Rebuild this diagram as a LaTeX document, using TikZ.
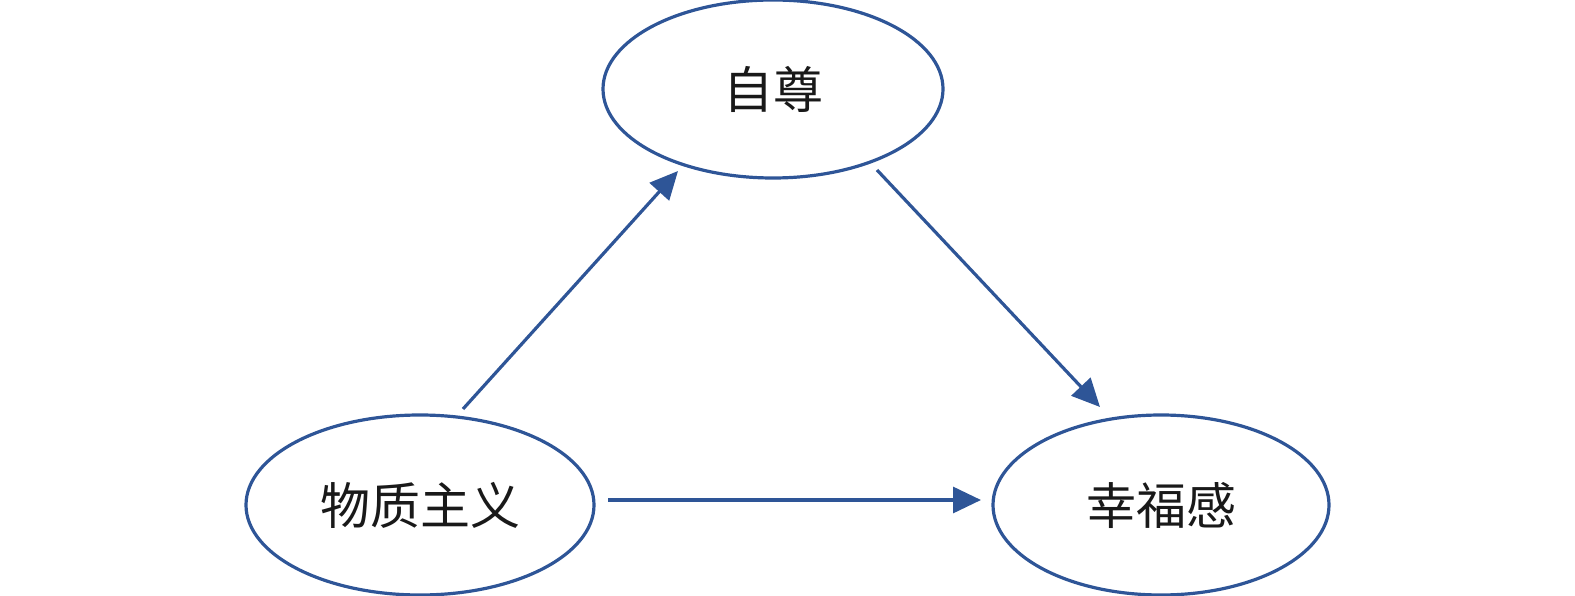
\documentclass[tikz,border=0pt]{standalone}
\usepackage{fontspec}
\newfontfamily\cjk{Noto Sans CJK SC}
\usetikzlibrary{shapes.geometric,arrows.meta}
\definecolor{lineblue}{HTML}{2E5597}
\tikzset{
  oval/.style={ellipse, draw=lineblue, line width=3.2pt, inner sep=0pt, font=\cjk\fontsize{50}{56}\selectfont, text=black!90},
  conn/.style={draw=lineblue, line width=3.2pt, -{Triangle[length=28pt,width=26pt]}}
}
\begin{document}
\begin{tikzpicture}[x=1pt,y=-1pt]
\useasboundingbox (0,0) rectangle (1575,596);
\node[oval, minimum width=340pt, minimum height=178pt] (self) at (773,89) {自尊};
\node[oval, minimum width=348pt, minimum height=180pt] (mat) at (420,505) {物质主义};
\node[oval, minimum width=336pt, minimum height=180pt] (hap) at (1161,505) {幸福感};
\coordinate (a1s) at (463,409);
\coordinate (a1e) at (678,171);
\coordinate (a2s) at (877,170);
\coordinate (a2e) at (1100,407);
\coordinate (a3s) at (608,500);
\coordinate (a3e) at (981,500);
\draw[conn] (a1s) -- (a1e);
\draw[conn] (a2s) -- (a2e);
\draw[conn] (a3s) -- (a3e);
\end{tikzpicture}
\end{document}
